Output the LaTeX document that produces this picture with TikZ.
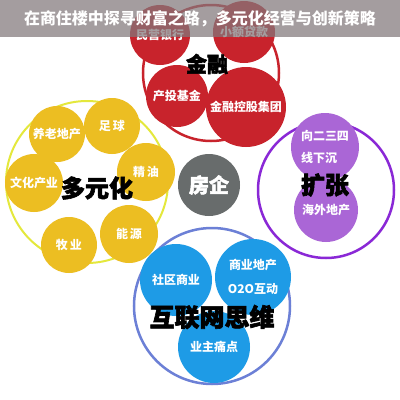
\documentclass[tikz,border=0pt]{standalone}
\usepackage{fontspec}
\newfontfamily\cjk{Noto Sans CJK SC}
\newfontfamily\cjkheavy{Noto Sans CJK SC}[FakeBold=2.5]
\definecolor{jinred}{RGB}{200,35,44}
\definecolor{duoyellow}{RGB}{236,190,34}
\definecolor{ringyellow}{RGB}{228,232,60}
\definecolor{kuopurple}{RGB}{170,102,214}
\definecolor{ringpurple}{RGB}{138,40,214}
\definecolor{hublue}{RGB}{30,155,230}
\definecolor{ringblue}{RGB}{108,128,214}
\definecolor{fanggray}{RGB}{104,108,108}
\definecolor{bandgray}{RGB}{130,120,123}
\tikzset{
  bubble/.style={circle, inner sep=0pt, text=white, font=\cjk\bfseries\fontsize{12}{12}\selectfont},
  ring/.style={circle, draw, line width=2.5pt, inner sep=0pt},
  biglabel/.style={font=\cjkheavy\bfseries\fontsize{24}{24}\selectfont, text=black, inner sep=0pt}
}
\begin{document}
\begin{tikzpicture}[x=1pt, y=-1pt]
\useasboundingbox (0,0) rectangle (400,400);
\fill[white] (0,0) rectangle (400,400);

% Finance group
\node[ring, draw=jinred, minimum size=136pt] (jinring) at (211,73) {};
\node[bubble, fill=jinred, minimum size=60pt] (minying) at (160,35) {民营银行};
\node[bubble, fill=jinred, minimum size=62pt] (xiaoe) at (244,32) {小额贷款};
\node[bubble, fill=jinred, minimum size=62pt] (chantou) at (177,96) {产投基金};
\node[bubble, fill=jinred, minimum size=80pt] (konggu) at (246,107) {金融控股集团};
\node[biglabel, font=\cjkheavy\bfseries\fontsize{21}{21}\selectfont] (jinrong) at (207,64) {金融};

% Diversification group
\node[ring, draw=ringyellow, line width=2pt, minimum size=162pt] (duoring) at (87,182) {};
\node[bubble, fill=duoyellow, minimum size=56pt] (yanglao) at (57,134) {养老地产};
\node[bubble, fill=duoyellow, minimum size=56pt] (zuqiu) at (112,126) {足\,球};
\node[bubble, fill=duoyellow, minimum size=58pt] (jingyou) at (146,172) {精\,油};
\node[bubble, fill=duoyellow, minimum size=58pt] (wenhua) at (34,183) {文化产业};
\node[bubble, fill=duoyellow, minimum size=58pt] (nengyuan) at (129,234) {能\,源};
\node[bubble, fill=duoyellow, minimum size=56pt] (muye) at (69,245) {牧\,业};
\node[biglabel] (duoyuan) at (97,188) {多元化};

% Real estate core
\node[bubble, fill=fanggray, minimum size=62pt, font=\cjkheavy\bfseries\fontsize{20}{20}\selectfont] (fangqi) at (209,185) {房企};

% Expansion group
\node[ring, draw=ringpurple, minimum size=136pt] (kuoring) at (326,190) {};
\node[bubble, fill=kuopurple, minimum size=68pt, align=left] (xiachen) at (325,147) {向二三四\\[10pt]线下沉};
\node[bubble, fill=kuopurple, minimum size=64pt] (haiwai) at (326,210) {海外地产};
\node[biglabel] (kuozhang) at (325,185) {扩张};

% Internet group
\node[ring, draw=ringblue, minimum size=156pt] (huring) at (212,306) {};
\node[bubble, fill=hublue, minimum size=72pt] (shequ) at (176,280) {社区商业};
\node[bubble, fill=hublue, minimum size=76pt, align=center] (shangye) at (253,277) {商业地产\\[12pt]O2O互动};
\node[bubble, fill=hublue, minimum size=72pt] (tongdian) at (214,347) {业主痛点};
\node[biglabel, font=\cjkheavy\bfseries\fontsize{25}{25}\selectfont] (huwang) at (212,317) {互联网思维};

% Title bar
\fill[bandgray, opacity=0.72] (0,0) rectangle (400,37);
\node[font=\cjk\bfseries\fontsize{16}{16}\selectfont, text=white] (title) at (200,19) {在商住楼中探寻财富之路，多元化经营与创新策略};
\end{tikzpicture}
\end{document}
